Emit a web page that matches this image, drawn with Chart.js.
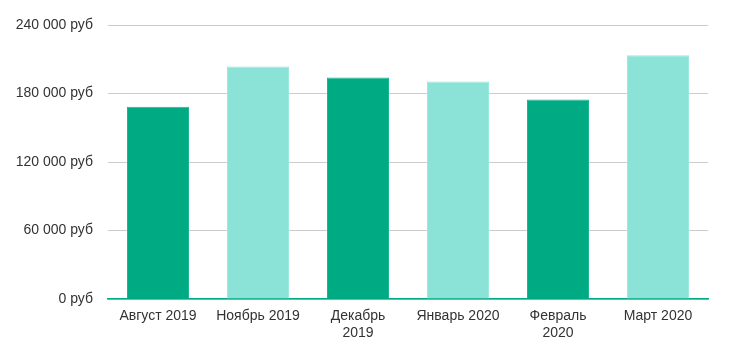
<!DOCTYPE html>
<html><head><meta charset="utf-8">
<script src="https://cdn.jsdelivr.net/npm/chart.js@4"></script>
<style>html,body{margin:0;padding:0;background:#fff}#wrap{width:733px;height:359px}</style>
</head><body><div id="wrap"><canvas id="c"></canvas></div>
<script>
const categories = ["Август 2019", "Ноябрь 2019", ["Декабрь", "2019"], "Январь 2020", ["Февраль", "2020"], "Март 2020"];
const values = [168500, 203700, 194000, 190500, 174700, 213600];
const yTicks = [0, 60000, 120000, 180000, 240000];
const barColors = ["#00ab84", "#8be3d8", "#00ab84", "#8be3d8", "#00ab84", "#8be3d8"];
const borderColors = ["#1eb593", "#9ae8de", "#1eb593", "#9ae8de", "#1eb593", "#9ae8de"];

Chart.defaults.font.family = "'Liberation Sans', Arial, sans-serif";
Chart.defaults.color = "#333";
new Chart(document.getElementById('c'), {
  type: 'bar',
  data: { labels: categories, datasets: [{ data: values, backgroundColor: barColors, borderColor: borderColors, borderWidth: 1, barPercentage: 0.62, categoryPercentage: 1 }] },
  options: {
    responsive: true, maintainAspectRatio: false, animation: false,
    layout: { padding: { top: 25, right: 25, left: 0, bottom: 0 } },
    plugins: { legend: { display: false }, tooltip: { enabled: false } },
    scales: {
      x: {
        grid: { display: false, drawTicks: false },
        border: { color: "#00ab84", width: 1.5 },
        ticks: { font: { size: 14 }, padding: 9, maxRotation: 0, autoSkip: false },
        afterFit: (ax) => { ax.height = 60; }
      },
      y: {
        min: 0, max: 240000,
        afterBuildTicks: (ax) => { ax.ticks = yTicks.map(v => ({ value: v })); },
        grid: { color: "#cccccc", drawTicks: false },
        border: { display: false },
        ticks: { font: { size: 14 }, padding: 15, callback: (v) => v.toLocaleString('ru-RU').replace(/\s/g, ' ') + ' руб' },
        afterFit: (ax) => { ax.width = 108; }
      }
    }
  }
});
</script></body></html>
